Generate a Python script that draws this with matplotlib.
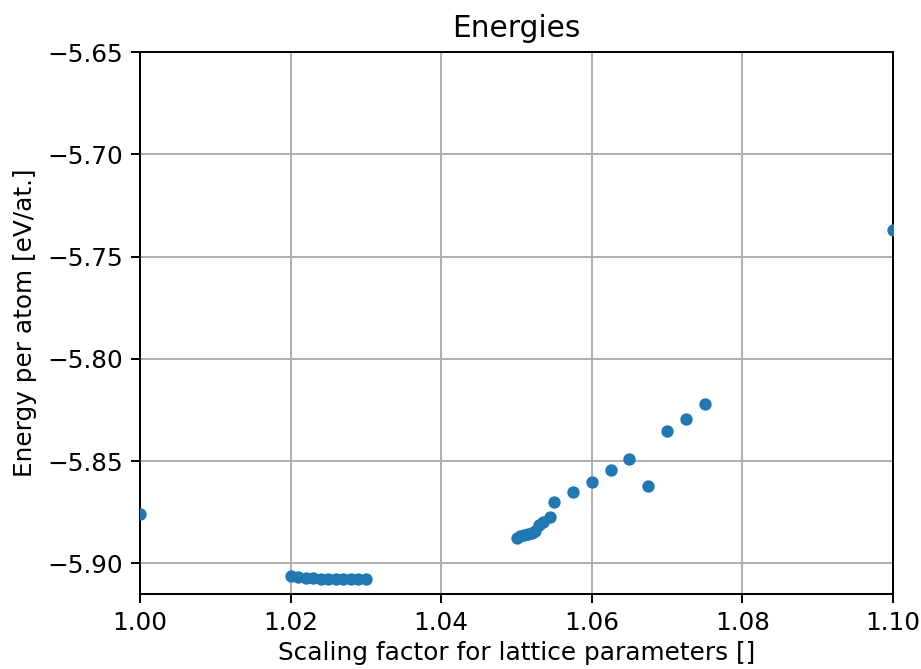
import matplotlib
matplotlib.use("Agg")
import matplotlib.pyplot as plt

# Lattice scaling factors and the corresponding energy per atom
scaling = [
    1.000,
    1.020, 1.021, 1.022, 1.023, 1.024, 1.025, 1.026, 1.027, 1.028, 1.029, 1.030,
    1.0500, 1.0505, 1.0510, 1.0515, 1.0520, 1.0525, 1.0530, 1.0535, 1.0545,
    1.0550, 1.0575, 1.0600, 1.0625, 1.0650, 1.0675, 1.0700, 1.0725, 1.0750,
    1.100,
]
energy = [
    -5.8761,
    -5.9064, -5.9068, -5.9071, -5.9073, -5.9075, -5.9077, -5.9078, -5.9078,
    -5.9079, -5.9079, -5.9078,
    -5.8874, -5.8868, -5.8862, -5.8856, -5.8850, -5.8842, -5.8815, -5.8800,
    -5.8775,
    -5.8702, -5.8653, -5.8604, -5.8546, -5.8490, -5.8620, -5.8355, -5.8293,
    -5.8221,
    -5.7372,
]

DPI = 178
fig = plt.figure(figsize=(921 / DPI, 669 / DPI), dpi=DPI)
ax = fig.add_axes([140 / 921, 1 - 594 / 669, (893 - 140) / 921, (594 - 52) / 669])

ax.scatter(scaling, energy, s=16, color="#1f77b4", zorder=3)

ax.set_xlim(1.00, 1.10)
ax.set_ylim(-5.9150, -5.65)
ax.set_xticks([1.00, 1.02, 1.04, 1.06, 1.08, 1.10])
ax.set_yticks([-5.90, -5.85, -5.80, -5.75, -5.70, -5.65])
ax.grid(True, color="#b0b0b0", linewidth=0.8)
ax.set_axisbelow(True)

ax.set_title("Energies")
ax.set_xlabel("Scaling factor for lattice parameters []", labelpad=2.5)
ax.set_ylabel("Energy per atom [eV/at.]")

fig.savefig("out.png", dpi=DPI)
